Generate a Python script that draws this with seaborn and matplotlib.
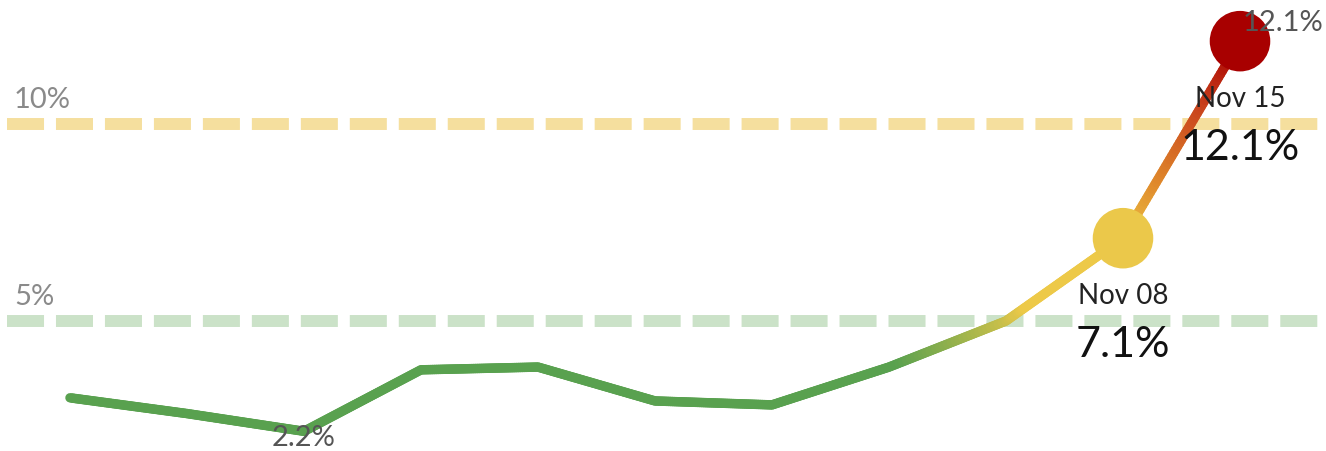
import matplotlib
matplotlib.use("Agg")
import matplotlib.pyplot as plt
from matplotlib.collections import LineCollection
from matplotlib.colors import LinearSegmentedColormap, Normalize
import seaborn as sns
import pandas as pd
import numpy as np

# data (weekly share, %)
weeks = list(range(11))
rates = [3.05, 2.65, 2.2, 3.76, 3.83, 2.97, 2.87, 3.83, 5.0, 7.1, 12.1]
highlight_idx = [9, 10]
highlight_dates = ["Nov 08", "Nov 15"]
highlight_colors = ["#EBC84A", "#A80000"]
thresholds = [5, 10]
threshold_labels = ["5%", "10%"]
threshold_colors = ["#CBE2C8", "#F5DF9E"]

df = pd.DataFrame({"week": weeks, "rate": rates})

sns.set_theme(style="white")
plt.rcParams["font.family"] = ["Lato", "DejaVu Sans"]

fig = plt.figure(figsize=(13.26, 4.52), dpi=100)
ax = fig.add_axes([0, 0, 1, 1])
ax.set_xlim(-0.598, 10.735)
ax.set_ylim(1.70, 13.17)
ax.axis("off")

# threshold lines
for val, lab, col in zip(thresholds, threshold_labels, threshold_colors):
    ax.axhline(val, xmin=7 / 1326, xmax=1318 / 1326, color=col, lw=8.6,
               ls=(0, (3.1, 1.0)), zorder=1)
    ax.annotate(lab, xy=(14 / 1326, val), xycoords=("axes fraction", "data"),
                xytext=(0, 18), textcoords="offset points", ha="left", va="center",
                fontsize=21, color="#8a8a8a")

# gradient line coloured by value
cmap = LinearSegmentedColormap.from_list("risk", [
    (0.0, "#59A14F"), (0.19, "#59A14F"), (0.33, "#EDC948"), (0.5, "#EDC948"),
    (0.65, "#E08A2C"), (0.85, "#C8401C"), (1.0, "#A80000")])
norm = Normalize(vmin=2.0, vmax=12.1)
xs, ys = [], []
for i in range(len(df) - 1):
    t = np.linspace(0, 1, 60, endpoint=False)
    xs.append(df.week[i] + t * (df.week[i + 1] - df.week[i]))
    ys.append(df.rate[i] + t * (df.rate[i + 1] - df.rate[i]))
xs = np.append(np.concatenate(xs), df.week.iloc[-1])
ys = np.append(np.concatenate(ys), df.rate.iloc[-1])
pts = np.column_stack([xs, ys]).reshape(-1, 1, 2)
segs = np.concatenate([pts[:-1], pts[1:]], axis=1)
mid = (ys[:-1] + ys[1:]) / 2
lc = LineCollection(segs, colors=cmap(norm(mid)), linewidths=6.8, capstyle="round",
                    joinstyle="round", zorder=2)
ax.add_collection(lc)

# highlighted points
hl = df.iloc[highlight_idx].copy()
hl["date"] = highlight_dates
sns.scatterplot(data=hl, x="week", y="rate", hue="date", palette=highlight_colors,
                s=1900, linewidth=0, legend=False, ax=ax, zorder=3)

for (_, row) in hl.iterrows():
    ax.annotate(row["date"], xy=(row.week, row.rate), xytext=(0, -41),
                textcoords="offset points", ha="center", va="center",
                fontsize=20, color="#222222", zorder=4)
    ax.annotate(f"{row.rate:.1f}%", xy=(row.week, row.rate), xytext=(0, -76),
                textcoords="offset points", ha="center", va="center",
                fontsize=31, color="#111111", zorder=4)

# min and last value labels
imin = int(df.rate.idxmin())
ax.annotate(f"{df.rate[imin]:.1f}%", xy=(df.week[imin], df.rate[imin]), xytext=(0, -4),
            textcoords="offset points", ha="center", va="center",
            fontsize=21, color="#555555", zorder=4)
ax.annotate(f"{df.rate.iloc[-1]:.1f}%", xy=(df.week.iloc[-1], df.rate.iloc[-1]),
            xytext=(31, 14), textcoords="offset points", ha="center", va="center",
            fontsize=21, color="#555555", zorder=4)

fig.savefig("out.png", dpi=100)
